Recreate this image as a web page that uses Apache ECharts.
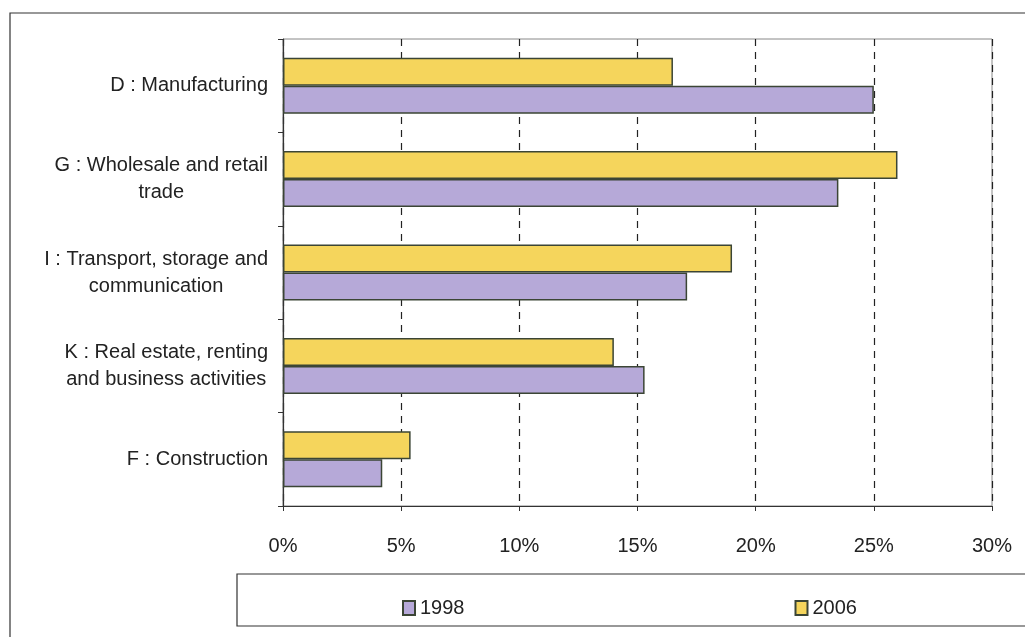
<!DOCTYPE html>
<html>
<head>
<meta charset="utf-8">
<script src="https://cdn.jsdelivr.net/npm/echarts@6/dist/echarts.min.js"></script>
<style>
  html, body { margin: 0; padding: 0; background: #fff; }
  #container01 { width: 1025px; height: 637px; }
</style>
</head>
<body>
<div id="container01"></div>
<script>
// 行业分类
const categories = [
    'D : Manufacturing',
    'G : Wholesale and retail\ntrade',
    'I : Transport, storage and\ncommunication',
    'K : Real estate, renting\nand business activities',
    'F : Construction'
];
// 各年份占比 (%)
const values2006 = [16.5, 26, 19, 14, 5.4];
const values1998 = [25, 23.5, 17.1, 15.3, 4.2];
const seriesNames = ['1998', '2006'];
const xTicks = [0, 5, 10, 15, 20, 25, 30];

const initBarChart = () => {
    const dom = document.getElementById('container01');
    const myChart = echarts.init(dom, null, { renderer: 'canvas' });

    const font = 'Liberation Sans, Arial, sans-serif';
    const edge = '#3b4535';

    const option = {
        animation: false,
        backgroundColor: '#fff',
        textStyle: { fontFamily: font },
        graphic: [
            {
                type: 'rect',
                shape: { x: 10, y: 13, width: 1030, height: 640 },
                style: { fill: 'none', stroke: '#333', lineWidth: 1.2 },
                silent: true
            },
            {
                type: 'rect',
                shape: { x: 237, y: 574, width: 800, height: 52 },
                style: { fill: 'none', stroke: '#333', lineWidth: 1.2 },
                silent: true
            }
        ],
        legend: {
            data: seriesNames,
            left: 397,
            top: 593,
            itemGap: 330,
            itemWidth: 12,
            itemHeight: 14,
            icon: 'rect',
            textStyle: { fontSize: 20, color: '#222' }
        },
        grid: {
            left: 283,
            right: 33,
            top: 39,
            bottom: 131,
            show: true,
            borderColor: '#888',
            borderWidth: 1
        },
        xAxis: {
            type: 'value',
            min: xTicks[0],
            max: xTicks[xTicks.length - 1],
            interval: 5,
            axisLine: { show: true, lineStyle: { color: '#333', width: 1.2 } },
            axisTick: { show: true, length: 5, inside: false, lineStyle: { color: '#333' } },
            axisLabel: {
                formatter: '{value}%',
                fontSize: 20,
                color: '#222',
                margin: 30
            },
            splitLine: {
                show: true,
                lineStyle: { color: '#222', type: [7, 6], width: 1.2 }
            }
        },
        yAxis: {
            type: 'category',
            data: categories,
            inverse: true,
            axisLine: { show: true, lineStyle: { color: '#333', width: 1.2 } },
            axisTick: { show: true, length: 5, lineStyle: { color: '#333' } },
            axisLabel: {
                fontSize: 20,
                color: '#222',
                margin: 15,
                lineHeight: 27,
                formatter: (v) => v.split('\n').map(s => '{c|' + s + '}').join('\n'),
                rich: {
                    c: { align: 'center', fontSize: 20, color: '#222', lineHeight: 27 }
                }
            }
        },
        series: [
            {
                name: '2006',
                type: 'bar',
                data: values2006,
                barWidth: 28,
                barGap: '0%',
                itemStyle: { color: '#f5d55c', borderColor: edge, borderWidth: 1.5 }
            },
            {
                name: '1998',
                type: 'bar',
                data: values1998,
                barWidth: 28,
                barGap: '0%',
                itemStyle: { color: '#b6a9d8', borderColor: edge, borderWidth: 1.5 }
            }
        ]
    };

    myChart.setOption(option);
    window.addEventListener('resize', myChart.resize);
};

initBarChart();
</script>
</body>
</html>
